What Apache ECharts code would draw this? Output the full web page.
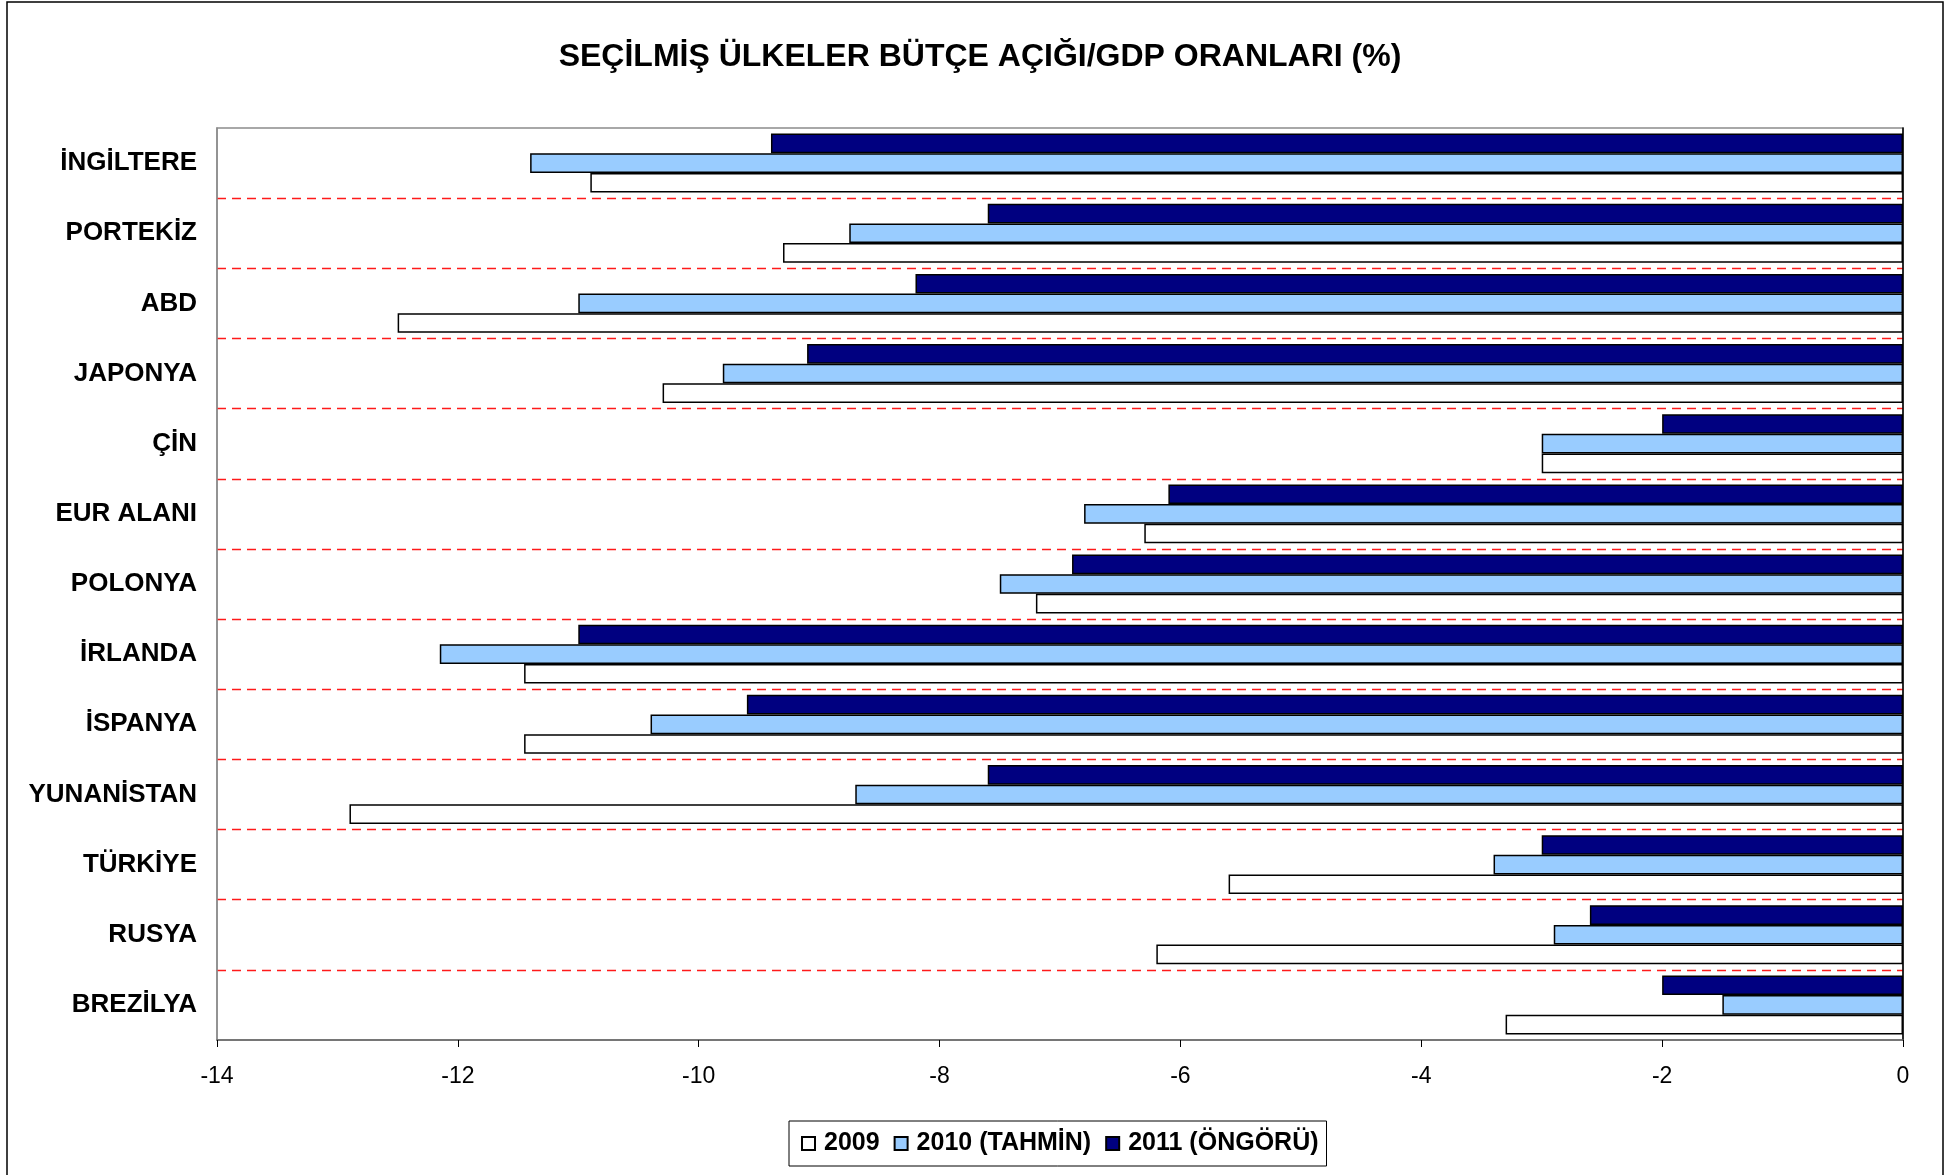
<!DOCTYPE html>
<html>
<head>
<meta charset="utf-8">
<title>Bütçe açığı / GDP</title>
<script src="https://cdn.jsdelivr.net/npm/echarts@6/dist/echarts.min.js"></script>
<style>
  html, body { margin: 0; padding: 0; background: #fff; }
  #chart { width: 1960px; height: 1175px; }
</style>
</head>
<body>
<div id="chart"></div>
<script>
// ülkeler (yukarıdan aşağıya)
var countries = ['İNGİLTERE', 'PORTEKİZ', 'ABD', 'JAPONYA', 'ÇİN', 'EUR ALANI', 'POLONYA',
                 'İRLANDA', 'İSPANYA', 'YUNANİSTAN', 'TÜRKİYE', 'RUSYA', 'BREZİLYA'];
var seriesNames = ['2009', '2010 (TAHMİN)', '2011 (ÖNGÖRÜ)'];
var val2009 = [-10.9, -9.3, -12.5, -10.3, -3.0, -6.3, -7.2, -11.45, -11.45, -12.9, -5.6, -6.2, -3.3];
var val2010 = [-11.4, -8.75, -11.0, -9.8, -3.0, -6.8, -7.5, -12.15, -10.4, -8.7, -3.4, -2.9, -1.5];
var val2011 = [-9.4, -7.6, -8.2, -9.1, -2.0, -6.1, -6.9, -11.0, -9.6, -7.6, -3.0, -2.6, -2.0];
var xTicks = { min: -14, max: 0, step: 2 };

var chart = echarts.init(document.getElementById('chart'));
var font = 'Liberation Sans, Arial, sans-serif';

var option = {
    backgroundColor: '#fff',
    animation: false,
    title: {
        text: 'SEÇİLMİŞ ÜLKELER BÜTÇE AÇIĞI/GDP ORANLARI (%)',
        left: 'center',
        top: 36,
        textStyle: { fontFamily: font, fontSize: 32, fontWeight: 'bold', color: '#000' }
    },
    legend: {
        data: seriesNames,
        icon: 'rect',
        left: 789,
        top: 1121,
        itemWidth: 13,
        itemHeight: 13,
        itemGap: 14,
        borderColor: '#000',
        borderWidth: 1,
        padding: [10, 8, 10, 12],
        textStyle: {
            fontFamily: font, fontSize: 25, fontWeight: 'bold', color: '#000',
            padding: [0, 0, 0, 4]
        }
    },
    grid: {
        left: 217,
        right: 57,
        top: 128,
        bottom: 135,
        show: true,
        borderColor: '#8c8c8c',
        borderWidth: 1.5
    },
    graphic: [{
        type: 'rect',
        shape: { x: 7, y: 2, width: 1936, height: 1200 },
        style: { fill: 'none', stroke: '#000', lineWidth: 1.5 },
        silent: true
    }],
    xAxis: {
        type: 'value',
        min: xTicks.min,
        max: xTicks.max,
        interval: xTicks.step,
        axisLine: { show: true, onZero: false, lineStyle: { color: '#666', width: 1.5 } },
        axisTick: { show: true, length: 7, lineStyle: { color: '#000' } },
        axisLabel: { margin: 25, fontFamily: font, fontSize: 23, color: '#000' },
        splitLine: { show: false }
    },
    yAxis: [{
        type: 'category',
        inverse: true,
        data: countries,
        axisLine: { show: true, onZero: false, lineStyle: { color: '#8c8c8c', width: 1.5 } },
        axisTick: { show: false },
        axisLabel: { margin: 20, fontFamily: font, fontSize: 26, fontWeight: 'bold', color: '#000' },
        splitLine: {
            show: true,
            showMinLine: false,
            showMaxLine: false,
            lineStyle: { color: '#ff1a1a', type: [9, 6], width: 1.3 }
        }
    }, {
        type: 'category',
        inverse: true,
        position: 'right',
        data: countries,
        axisLine: { show: true, onZero: false, lineStyle: { color: '#000', width: 1.5 } },
        axisTick: { show: false },
        axisLabel: { show: false },
        splitLine: { show: false }
    }],
    series: [
        {
            name: seriesNames[2],
            type: 'bar',
            data: val2011,
            barGap: '0%',
            barCategoryGap: '16%',
            itemStyle: { color: '#000080', borderColor: '#000', borderWidth: 1.5 }
        },
        {
            name: seriesNames[1],
            type: 'bar',
            data: val2010,
            barGap: '0%',
            barCategoryGap: '16%',
            itemStyle: { color: '#99ccff', borderColor: '#000', borderWidth: 1.5 }
        },
        {
            name: seriesNames[0],
            type: 'bar',
            data: val2009,
            barGap: '0%',
            barCategoryGap: '16%',
            itemStyle: { color: '#ffffff', borderColor: '#000', borderWidth: 1.5 }
        }
    ]
};

chart.setOption(option);
</script>
</body>
</html>
